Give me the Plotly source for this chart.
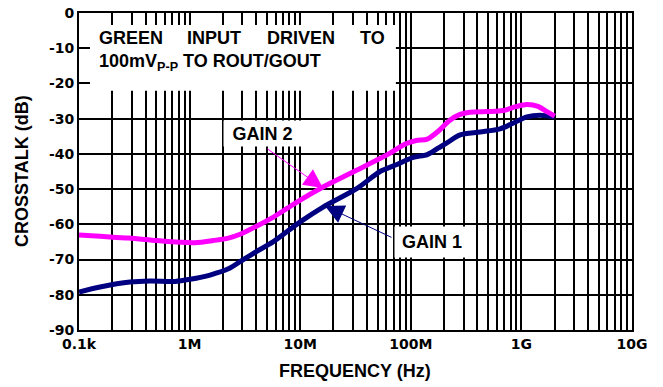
import plotly.graph_objects as go

# ---------------- data ----------------
gain2_freq = [1.00e5, 1.55e5, 2.82e5, 5.01e5, 8.18e5, 1.12e6, 1.63e6, 2.24e6, 2.86e6,
              3.98e6, 5.68e6, 7.59e6, 1.00e7, 1.61e7, 3.27e7, 6.49e7, 8.91e7, 1.12e8,
              1.41e8, 1.78e8, 2.24e8, 2.79e8, 3.43e8, 5.01e8, 6.82e8, 8.91e8, 1.12e9,
              1.41e9, 1.70e9, 2.00e9]
gain2_db = [-63.0, -63.4, -63.9, -64.6, -65.1, -65.2, -64.6, -63.9, -62.8,
            -60.6, -58.0, -55.5, -53.1, -49.4, -44.6, -39.8, -37.2, -36.2,
            -35.8, -33.5, -30.5, -28.8, -28.2, -28.0, -27.7, -26.6, -26.0,
            -26.5, -28.0, -29.3]

gain1_freq = [1.00e5, 1.55e5, 2.89e5, 4.39e5, 7.38e5, 1.01e6, 1.53e6, 2.32e6, 2.86e6,
              3.98e6, 5.68e6, 1.00e7, 1.61e7, 3.27e7, 5.27e7, 7.50e7, 1.05e8, 1.41e8,
              1.78e8, 2.12e8, 2.79e8, 4.23e8, 6.41e8, 8.39e8, 1.12e9, 1.47e9, 2.00e9]
gain1_db = [-79.2, -77.8, -76.4, -76.1, -76.2, -75.6, -74.4, -72.4, -70.6,
            -67.8, -65.0, -59.3, -55.1, -49.8, -45.0, -43.0, -41.0, -40.2,
            -38.3, -36.9, -34.6, -33.8, -32.9, -31.3, -29.5, -29.0, -29.5]

x_decades = [1e5, 1e6, 1e7, 1e8, 1e9, 1e10]
x_tick_labels = ["0.1k", "1M", "10M", "100M", "1G", "10G"]
y_ticks = [0, -10, -20, -30, -40, -50, -60, -70, -80, -90]
y_tick_labels = ["0", "-10", "-20", "-30", "-40", "-50", "-60", "-70", "-80", "-90"]

MAGENTA = "#FF00FF"
NAVY = "#000080"

# all log gridline positions (1..9 per decade) with labels only on decades
tickvals, ticktext = [], []
for i, d in enumerate(x_decades):
    for m in range(1, 10):
        if i == len(x_decades) - 1 and m > 1:
            break
        tickvals.append(d * m)
        ticktext.append("<b>" + x_tick_labels[i] + "</b>" if m == 1 else "")

fig = go.Figure()
fig.add_trace(go.Scatter(x=gain1_freq, y=gain1_db, mode="lines",
                         line=dict(color=NAVY, width=5, shape="spline", smoothing=0.8),
                         showlegend=False, hoverinfo="skip"))
fig.add_trace(go.Scatter(x=gain2_freq, y=gain2_db, mode="lines",
                         line=dict(color=MAGENTA, width=5, shape="spline", smoothing=0.8),
                         showlegend=False, hoverinfo="skip"))

tick_font = dict(family="DejaVu Sans", size=14, color="black")
txt_font = dict(family="Liberation Sans", size=18, color="black")

fig.update_layout(
    width=663, height=387,
    margin=dict(l=79, r=31, t=13, b=57, autoexpand=False),
    paper_bgcolor="white", plot_bgcolor="white",
    xaxis=dict(type="log", range=[5, 10], tickmode="array", tickvals=tickvals,
               ticktext=ticktext, showgrid=True, gridcolor="black", gridwidth=2,
               showline=True, linecolor="black", linewidth=2, mirror=True,
               ticks="", tickfont=tick_font, zeroline=False, automargin=False),
    yaxis=dict(range=[-90, 0], tickmode="array", tickvals=y_ticks,
               ticktext=["<b>" + t + "</b>" for t in y_tick_labels],
               showgrid=True, gridcolor="black", gridwidth=2,
               showline=True, linecolor="black", linewidth=2, mirror=True,
               ticks="", tickfont=tick_font, zeroline=False, automargin=False),
)

# white text box covering the grid
fig.add_shape(type="rect", xref="x domain", yref="y", x0=0.0199, x1=0.573, y0=-3.4, y1=-22.1,
              fillcolor="white", line=dict(width=0), layer="above")

annotations = []
for word, xd in [("GREEN", 0.0325), ("INPUT", 0.1917), ("DRIVEN", 0.3363), ("TO", 0.5045)]:
    annotations.append(dict(text="<b>" + word + "</b>", xref="x domain", yref="y", x=xd, y=-7.2,
                            xanchor="left", yanchor="middle", showarrow=False, font=txt_font))
annotations.append(dict(text="<b>100mV<sub>P-P</sub> TO ROUT/GOUT</b>", xref="x domain", yref="y",
                        x=0.0325, y=-14.0, xanchor="left", yanchor="middle",
                        showarrow=False, font=txt_font))

# arrows
annotations.append(dict(text="", xref="x", yref="y", x=7.206, y=-49.7,
                        axref="x", ayref="y", ax=6.691, ay=-38.3, showarrow=True,
                        arrowhead=2, arrowsize=3.8, arrowwidth=1, arrowcolor=MAGENTA))
annotations.append(dict(text="", xref="x", yref="y", x=7.224, y=-54.8,
                        axref="x", ayref="y", ax=7.839, ay=-63.9, showarrow=True,
                        arrowhead=2, arrowsize=3.8, arrowwidth=1, arrowcolor=NAVY))

# curve labels
annotations.append(dict(text="<b>GAIN 2</b>", xref="x domain", yref="y", x=0.331, y=-34.1,
                        xanchor="center", yanchor="middle",
                        showarrow=False, bgcolor="white", width=75, height=23, font=txt_font))
annotations.append(dict(text="<b>GAIN 1</b>", xref="x domain", yref="y", x=0.639, y=-65.0,
                        xanchor="center", yanchor="middle",
                        showarrow=False, bgcolor="white", width=72, height=28, font=txt_font))

# axis titles
annotations.append(dict(text="<b>CROSSTALK (dB)</b>", xref="paper", yref="paper", x=-0.103, y=0.502,
                        textangle=-90, showarrow=False, xanchor="center", yanchor="middle",
                        font=txt_font))
annotations.append(dict(text="<b>FREQUENCY (Hz)</b>", xref="paper", yref="paper", x=0.499, y=-0.129,
                        showarrow=False, xanchor="center", yanchor="middle", font=txt_font))

fig.update_layout(annotations=annotations)
fig.write_html("out.html")
